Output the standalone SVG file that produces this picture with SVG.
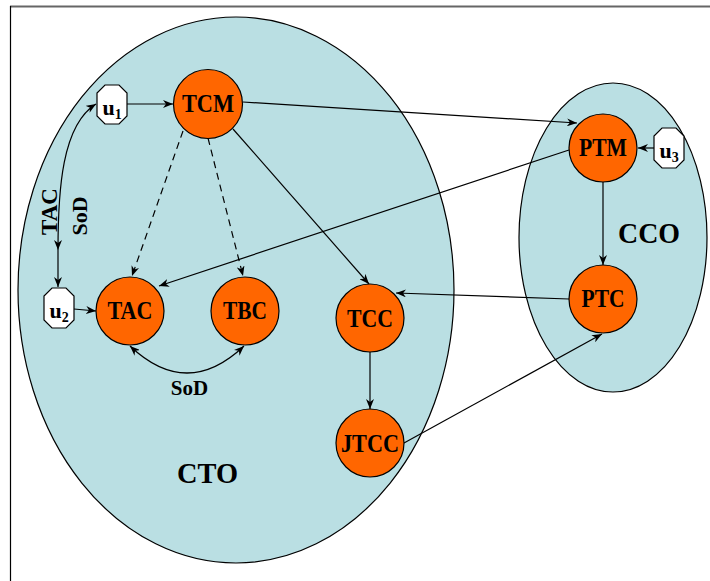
<svg xmlns="http://www.w3.org/2000/svg" width="710" height="581" viewBox="0 0 710 581">
<style>
.grp{fill:#badfe3;stroke:#000;stroke-width:1.2}
.n{fill:#ff6600;stroke:#000;stroke-width:1.2}
.u{fill:#fff;stroke:#000;stroke-width:1.2}
.t{font-family:"Liberation Serif","Times New Roman",serif;font-weight:bold;fill:#000}
.lbl{font-size:25px;text-anchor:middle}
.e{fill:none;stroke:#000;stroke-width:1.2;marker-end:url(#a)}
.d{stroke-dasharray:7,5}
</style>
<defs>
<marker id="a" viewBox="0 0 10 8" refX="10" refY="4" markerWidth="10" markerHeight="8" markerUnits="userSpaceOnUse" orient="auto-start-reverse">
<path d="M0,0 L10,4 L0,8 L3,4 z" fill="#000"/>
</marker>
</defs>
<rect x="0" y="0" width="710" height="581" fill="#fff"/>
<line x1="10" y1="6.5" x2="710" y2="6.5" stroke="#666" stroke-width="2"/>
<line x1="10.5" y1="6" x2="10.5" y2="581" stroke="#000" stroke-width="1.2"/>
<g id="CTO">
<ellipse class="grp" cx="236" cy="290" rx="218" ry="273"/>
<text class="t" x="207.5" y="483" font-size="30" text-anchor="middle" textLength="61" lengthAdjust="spacingAndGlyphs">CTO</text>
</g>
<g id="CCO">
<ellipse class="grp" cx="613" cy="237.5" rx="94" ry="154.5"/>
<text class="t" x="649" y="243" font-size="30" text-anchor="middle" textLength="62" lengthAdjust="spacingAndGlyphs">CCO</text>
</g>
<g id="edges">
<path class="e" d="M127,104 L173,104"/>
<path class="e" d="M58,250 C58,190 62,125 96,104" style="marker-start:url(#a)"/>
<path class="e" d="M58,250 L58,287"/>
<path class="e" d="M74,309 L96,311"/>
<path class="e d" d="M183,131 L132,276"/>
<path class="e d" d="M208,138 L243,276"/>
<path class="e" d="M233,129 L369,284"/>
<path class="e" d="M243,102 L577,123"/>
<path class="e" d="M569,150 L159,286"/>
<path class="e" d="M654,148 L638,148"/>
<path class="e" d="M603,182 L603,265"/>
<path class="e" d="M569,299 L396,293"/>
<path class="e" d="M370,352 L370,409"/>
<path class="e" d="M404,443 L602,334"/>
<path class="e" d="M130,346 Q187,400 244,346" style="marker-start:url(#a)"/>
</g>
<g id="u1">
<polygon class="u" points="105,85 119,85 127,93 127,116 119,124 105,124 97,116 97,93"/>
<text class="t" x="102.5" y="115" font-size="22">u<tspan font-size="14" dy="4">1</tspan></text>
</g>
<g id="u2">
<polygon class="u" points="52,288 66,288 74,296 74,320 66,328 52,328 44,320 44,296"/>
<text class="t" x="49.5" y="318" font-size="22">u<tspan font-size="14" dy="4">2</tspan></text>
</g>
<g id="u3">
<polygon class="u" points="662,128 676,128 684,136 684,160 676,168 662,168 654,160 654,136"/>
<text class="t" x="659.5" y="158" font-size="22">u<tspan font-size="14" dy="4">3</tspan></text>
</g>
<g id="TCM"><circle class="n" cx="208" cy="104" r="34.5"/><text class="t lbl" x="208" y="112" textLength="52" lengthAdjust="spacingAndGlyphs">TCM</text></g>
<g id="TAC"><circle class="n" cx="130" cy="311" r="34"/><text class="t lbl" x="130" y="319" textLength="45" lengthAdjust="spacingAndGlyphs">TAC</text></g>
<g id="TBC"><circle class="n" cx="245" cy="311" r="34"/><text class="t lbl" x="245" y="319" textLength="44" lengthAdjust="spacingAndGlyphs">TBC</text></g>
<g id="TCC"><circle class="n" cx="370" cy="318" r="34"/><text class="t lbl" x="370" y="327" textLength="46" lengthAdjust="spacingAndGlyphs">TCC</text></g>
<g id="JTCC"><circle class="n" cx="370" cy="443" r="34"/><text class="t lbl" x="370" y="452" textLength="58" lengthAdjust="spacingAndGlyphs">JTCC</text></g>
<g id="PTM"><circle class="n" cx="603" cy="148" r="34"/><text class="t lbl" x="603" y="156" textLength="48" lengthAdjust="spacingAndGlyphs">PTM</text></g>
<g id="PTC"><circle class="n" cx="603" cy="299" r="34"/><text class="t lbl" x="603" y="307" textLength="43" lengthAdjust="spacingAndGlyphs">PTC</text></g>
<g id="labels">
<text class="t" x="189.5" y="395" font-size="21" text-anchor="middle">SoD</text>
<text class="t" transform="translate(57,211.5) rotate(-90)" font-size="23" text-anchor="middle">TAC</text>
<text class="t" transform="translate(87,216) rotate(-90)" font-size="22" text-anchor="middle">SoD</text>
</g>
</svg>
